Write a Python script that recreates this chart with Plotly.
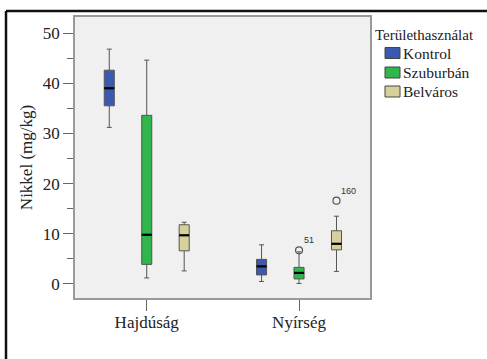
import plotly.graph_objects as go

# ---------------- data ----------------
categories = ["Hajdúság", "Nyírség"]
groups = ["Kontrol", "Szuburbán", "Belváros"]

kontrol_low = [31.2, 0.5]
kontrol_q1 = [35.5, 1.8]
kontrol_med = [39.0, 3.5]
kontrol_q3 = [42.6, 4.9]
kontrol_high = [46.8, 7.8]

szub_low = [1.2, 0.1]
szub_q1 = [3.9, 1.0]
szub_med = [9.8, 2.2]
szub_q3 = [33.6, 3.3]
szub_high = [44.6, 6.4]

belv_low = [2.6, 2.5]
belv_q1 = [6.6, 6.8]
belv_med = [9.7, 8.0]
belv_q3 = [11.8, 10.6]
belv_high = [12.3, 13.5]

outlier_group = ["Szuburbán", "Belváros"]
outlier_cat = ["Nyírség", "Nyírség"]
outlier_val = [6.7, 16.6]
outlier_lbl = ["51", "160"]

y_ticks = [0, 10, 20, 30, 40, 50]

# ---------------- style ----------------
colors = {"Kontrol": "#3c59b1", "Szuburbán": "#30b64b", "Belváros": "#d6d19b"}
stats = {
    "Kontrol": (kontrol_low, kontrol_q1, kontrol_med, kontrol_q3, kontrol_high),
    "Szuburbán": (szub_low, szub_q1, szub_med, szub_q3, szub_high),
    "Belváros": (belv_low, belv_q1, belv_med, belv_q3, belv_high),
}
W, H = 487, 359
ML, MR, MT, MB = 75, 117, 17, 61
PW, PH = W - ML - MR, H - MT - MB
SERIF = "Times New Roman, Liberation Serif, DejaVu Serif, serif"
TXT = "#222222"
offset = 0.246
bw = 0.066


def px_x(px):
    return (px - ML) / PW


def px_y(py):
    return (H - MB - py) / PH


def pos(gi, ci):
    return ci + (gi - 1) * offset


fig = go.Figure()

for gi, g in enumerate(groups):
    lo, q1, md, q3, hi = stats[g]
    xs = [pos(gi, ci) for ci in range(len(categories))]
    fig.add_trace(go.Box(
        x=xs, q1=q1, median=md, q3=q3, lowerfence=lo, upperfence=hi,
        width=bw, whiskerwidth=0.5, fillcolor=colors[g],
        line=dict(color="#555555", width=1), boxpoints=False,
        showlegend=False, hoverinfo="skip", name=g,
    ))
    for ci, x in enumerate(xs):
        fig.add_trace(go.Scatter(
            x=[x - bw / 2, x + bw / 2], y=[md[ci], md[ci]], mode="lines",
            line=dict(color="black", width=2.2), showlegend=False, hoverinfo="skip",
        ))

ox = [pos(groups.index(g), categories.index(c)) for g, c in zip(outlier_group, outlier_cat)]
fig.add_trace(go.Scatter(
    x=ox, y=outlier_val, mode="markers",
    marker=dict(symbol="circle-open", size=7, color="#555555", line=dict(width=1.2)),
    showlegend=False, hoverinfo="skip",
))
for x, v, t in zip(ox, outlier_val, outlier_lbl):
    fig.add_annotation(x=x, y=v, text=t, showarrow=False, xanchor="left", yanchor="bottom",
                       xshift=3, yshift=3, font=dict(family="Arial, Liberation Sans, sans-serif",
                                                     size=9, color="#333333"))

# outer frame (left + top)
fig.add_shape(type="line", xref="paper", yref="paper", x0=px_x(6), x1=px_x(6),
              y0=px_y(H + 2), y1=px_y(11), line=dict(color="#111111", width=2.5))
fig.add_shape(type="line", xref="paper", yref="paper", x0=px_x(6), x1=px_x(W + 2),
              y0=px_y(11), y1=px_y(11), line=dict(color="#111111", width=2.5))

# legend
fig.add_annotation(xref="paper", yref="paper", x=px_x(373), y=px_y(35), text="Területhasználat",
                   showarrow=False, xanchor="left", yanchor="middle",
                   font=dict(family=SERIF, size=15, color=TXT))
rows = [53, 72.5, 91.5]
for g, ry in zip(groups, rows):
    fig.add_shape(type="rect", xref="paper", yref="paper", x0=px_x(385), x1=px_x(400),
                  y0=px_y(ry + 5.5), y1=px_y(ry - 5.5), fillcolor=colors[g],
                  line=dict(color="#444444", width=1))
    fig.add_annotation(xref="paper", yref="paper", x=px_x(401), y=px_y(ry), text=g,
                       showarrow=False, xanchor="left", yanchor="middle",
                       font=dict(family=SERIF, size=15.5, color=TXT))

fig.update_layout(
    width=W, height=H,
    margin=dict(l=ML, r=MR, t=MT, b=MB, pad=0),
    paper_bgcolor="white", plot_bgcolor="#f0f0f0",
    showlegend=False,
    font=dict(family=SERIF, size=17, color=TXT),
)
fig.update_xaxes(
    range=[-0.471, 1.466], tickvals=list(range(len(categories))), ticktext=categories,
    ticks="outside", ticklen=11, tickcolor="#666666", showgrid=False, zeroline=False,
    showline=True, mirror=True, linecolor="#999999", linewidth=1.5, ticklabelstandoff=-3,
    tickfont=dict(family=SERIF, size=17, color=TXT),
)
fig.update_yaxes(
    range=[-2.8, 53.2], tickvals=y_ticks, ticks="outside", ticklen=10, tickcolor="#666666",
    minor=dict(dtick=5, tick0=0, ticks="outside", ticklen=6, tickcolor="#666666", showgrid=False),
    showgrid=False, zeroline=False, showline=True, mirror=True, linecolor="#999999",
    linewidth=1.5, tickfont=dict(family=SERIF, size=17, color=TXT),
    title=dict(text="Nikkel (mg/kg)", font=dict(family=SERIF, size=17, color=TXT), standoff=6),
)

fig.write_html("out.html")
